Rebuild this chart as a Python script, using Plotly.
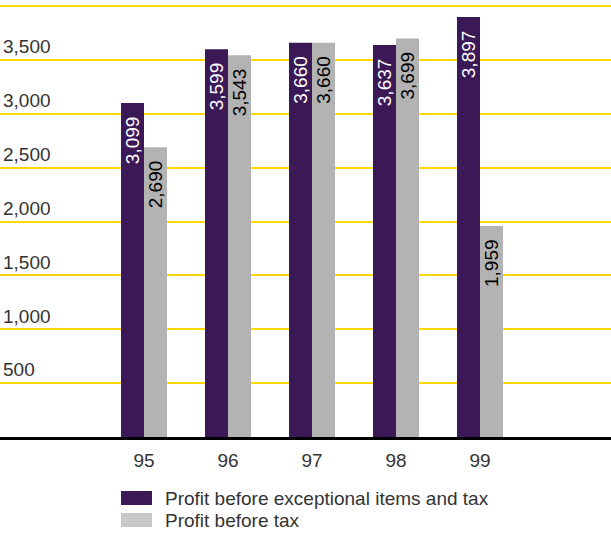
import plotly.graph_objects as go

years = ["95", "96", "97", "98", "99"]
profit_before_exceptional = [3099, 3599, 3660, 3637, 3897]
profit_before_tax = [2690, 3543, 3660, 3699, 1959]
series_names = ["Profit before exceptional items and tax", "Profit before tax"]
y_ticks = [0, 500, 1000, 1500, 2000, 2500, 3000, 3500, 4000]
y_tick_labels = ["", "500", "1,000", "1,500", "2,000", "2,500", "3,000", "3,500", ""]

PURPLE = "#3B1956"
GRAY = "#B3B3B3"
LEG_GRAY = "#C8C8C8"
FONT = "Liberation Sans"
FS = 19

W, H = 611, 534
L, R, T, B = 0, 0, 2, 97
pw, ph = W - L - R, H - T - B

x_idx = list(range(len(years)))

def lab(v):
    return f"{v:,}" + "\u00a0\u00a0"

fig = go.Figure()
fig.add_trace(go.Bar(
    x=x_idx, y=profit_before_exceptional, name=series_names[0],
    marker=dict(color=PURPLE, line=dict(width=0)),
    text=[lab(v) for v in profit_before_exceptional],
    textposition="inside", insidetextanchor="end", textangle=-90,
    insidetextfont=dict(color="white", size=FS, family=FONT),
    constraintext="none", cliponaxis=False,
))
fig.add_trace(go.Bar(
    x=x_idx, y=profit_before_tax, name=series_names[1],
    marker=dict(color=GRAY, line=dict(width=0)),
    text=[lab(v) for v in profit_before_tax],
    textposition="inside", insidetextanchor="end", textangle=-90,
    insidetextfont=dict(color="black", size=FS, family=FONT),
    constraintext="none", cliponaxis=False,
))

# x range so that category centers land at pixel 144 + 84*i
cx0, step = 144, 84
xr = [(L - cx0) / step, (W - R - cx0) / step]
ppu = 431 / 4000
yr_top = (437 - T) / ppu

fig.update_layout(
    width=W, height=H,
    margin=dict(l=L, r=R, t=T, b=B),
    paper_bgcolor="white", plot_bgcolor="white",
    barmode="group", bargap=1 - 46 / 84, bargroupgap=0,
    showlegend=False,
    font=dict(family=FONT, color="#333333", size=FS),
    xaxis=dict(
        range=xr, tickvals=x_idx, ticktext=years, showgrid=False,
        showline=True, linecolor="black", linewidth=3, ticks="",
        tickfont=dict(size=FS, color="#333333"), zeroline=False,
        ticklabelstandoff=4,
    ),
    yaxis=dict(
        range=[0, yr_top], tickvals=y_ticks, ticktext=y_tick_labels,
        showgrid=True, gridcolor="#FFD700", gridwidth=1.5,
        ticklabelposition="inside top", zeroline=False, showline=False,
        tickfont=dict(size=FS, color="#333333"), ticks="",
    ),
)

def px_x(p):
    return (p - L) / pw

def px_y(p):
    return (H - B - p) / ph

legend_items = [(series_names[0], PURPLE, 491, 505), (series_names[1], LEG_GRAY, 513, 527)]
for name, col, y0, y1 in legend_items:
    fig.add_shape(type="rect", xref="paper", yref="paper",
                  x0=px_x(121), x1=px_x(152), y0=px_y(y1), y1=px_y(y0),
                  fillcolor=col, line=dict(width=0))
    fig.add_annotation(xref="paper", yref="paper", x=px_x(163), y=px_y((y0 + y1) / 2),
                       text=name, showarrow=False, xanchor="left", yanchor="middle",
                       font=dict(size=FS, color="#333333", family=FONT))

fig.write_html("out.html", config={"displayModeBar": False},
               post_script="document.body.style.margin='0';document.body.style.overflow='hidden';")
